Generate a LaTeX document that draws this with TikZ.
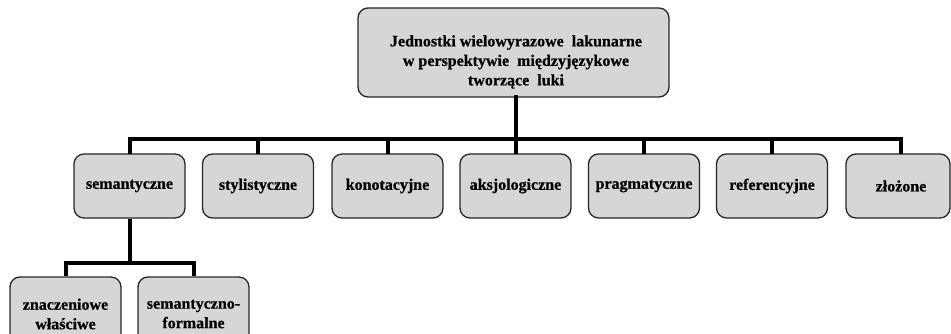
\documentclass[tikz,border=0pt]{standalone}
\usepackage{fontspec}
\setmainfont{Liberation Serif}[BoldFeatures={FakeBold=0.6}]
\begin{document}
\begin{tikzpicture}[x=1pt,y=-1pt,
  box/.style={draw=black!85, line width=1.3pt, fill=black!16, rounded corners=10pt, inner sep=0pt},
  lbl/.style={font=\fontsize{16}{19.5}\selectfont\bfseries, align=center, inner sep=0pt},
  conn/.style={line width=4pt, line cap=rect}]
\useasboundingbox (0,0) rectangle (951,334);
\clip (0,0) rectangle (951,334);
% root
\node[box, minimum width=311pt, minimum height=89pt] (root) at (513.5,52.5) {};
\node[lbl] (roott) at (516,62) {Jednostki wielowyrazowe\ \ lakunarne\\w perspektywie\ \ międzyjęzykowe\\tworzące\ \ luki};
% level 1
\foreach \n/\cx/\t in {a/129.5/semantyczne, b/258/stylistyczne, c/387.5/konotacyjne, d/515.5/aksjologiczne, e/644/pragmatyczne, f/772/referencyjne}{
  \node[box, minimum width=111pt, minimum height=64pt] (\n) at (\cx,186) {};
  \node[lbl] (\n t) at (\cx,186) {\t};
}
\node[box, minimum width=104pt, minimum height=64pt] (g) at (898,186) {};
\node[lbl] (gt) at (901,186) {złożone};
% level 2
\node[box, minimum width=111pt, minimum height=74pt] (h) at (65.5,314) {};
\node[lbl] (ht) at (65.5,314) {znaczeniowe\\właściwe};
\node[box, minimum width=111pt, minimum height=74pt] (i) at (193.5,314) {};
\node[lbl] (it) at (193.5,314) {semantyczno-\\formalne};
% connectors
\coordinate (bar) at (516,139);
\draw[conn] (516,97) -- (bar);
\draw[conn] (129.5,139) -- (901,139);
\foreach \n/\cx in {a/129.5, b/258, c/387.5, d/516, e/644, f/772, g/901}{
  \draw[line width=4pt] (\cx,139) -- (\cx,154);
}
\draw[line width=4pt] (a.south) -- (129.5,263);
\draw[conn] (65.5,263) -- (193.5,263);
\draw[line width=4pt] (65.5,263) -- (h.north);
\draw[line width=4pt] (193.5,263) -- (i.north);
\end{tikzpicture}
\end{document}
